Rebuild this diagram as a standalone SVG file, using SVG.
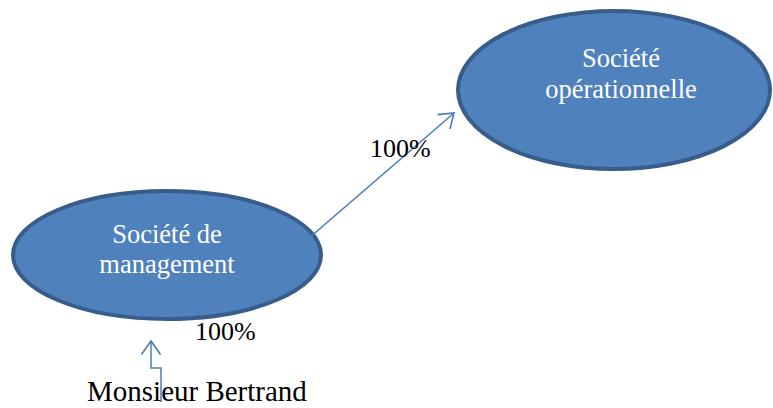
<svg xmlns="http://www.w3.org/2000/svg" width="773" height="408" viewBox="0 0 773 408">
  <style>
    .node { fill: #4f81bd; stroke: #385d8a; stroke-width: 4; }
    .label { font-family: "Liberation Serif", "Times New Roman", serif; fill: #ffffff; font-size: 26.5px; text-anchor: middle; }
    .txt { font-family: "Liberation Serif", "Times New Roman", serif; fill: #000000; }
    .link { fill: none; stroke: #4a7ebb; stroke-width: 1.5; }
  </style>
  <defs>
    <!-- open chevron arrowhead -->
    <marker id="open" viewBox="0 0 20 20" refX="15" refY="10" markerWidth="20" markerHeight="20" markerUnits="userSpaceOnUse" orient="auto">
      <path d="M1.5 0.5 L15 10 L1.5 19.5" fill="none" stroke="#4a7ebb" stroke-width="1.6"/>
    </marker>
  </defs>

  <g id="mgmt">
    <ellipse class="node" cx="167" cy="255" rx="154" ry="64"/>
    <text class="label" x="167" y="243">Société de</text>
    <text class="label" x="167" y="273">management</text>
  </g>

  <g id="ops">
    <ellipse class="node" cx="614" cy="90" rx="156" ry="79"/>
    <text class="label" x="621" y="67">Société</text>
    <text class="label" x="621" y="98">opérationnelle</text>
  </g>

  <g id="connectors">
    <path class="link" d="M243 295 L454 113" marker-end="url(#open)"/>
    <path class="link" d="M161 402 L161 368 L151 368 L151 341" marker-end="url(#open)"/>
  </g>

  <text class="txt" x="370" y="157" font-size="26">100%</text>
  <text class="txt" x="195" y="340" font-size="26">100%</text>
  <g id="person">
    <text class="txt" x="87" y="401" font-size="29">Monsieur Bertrand</text>
  </g>
</svg>
